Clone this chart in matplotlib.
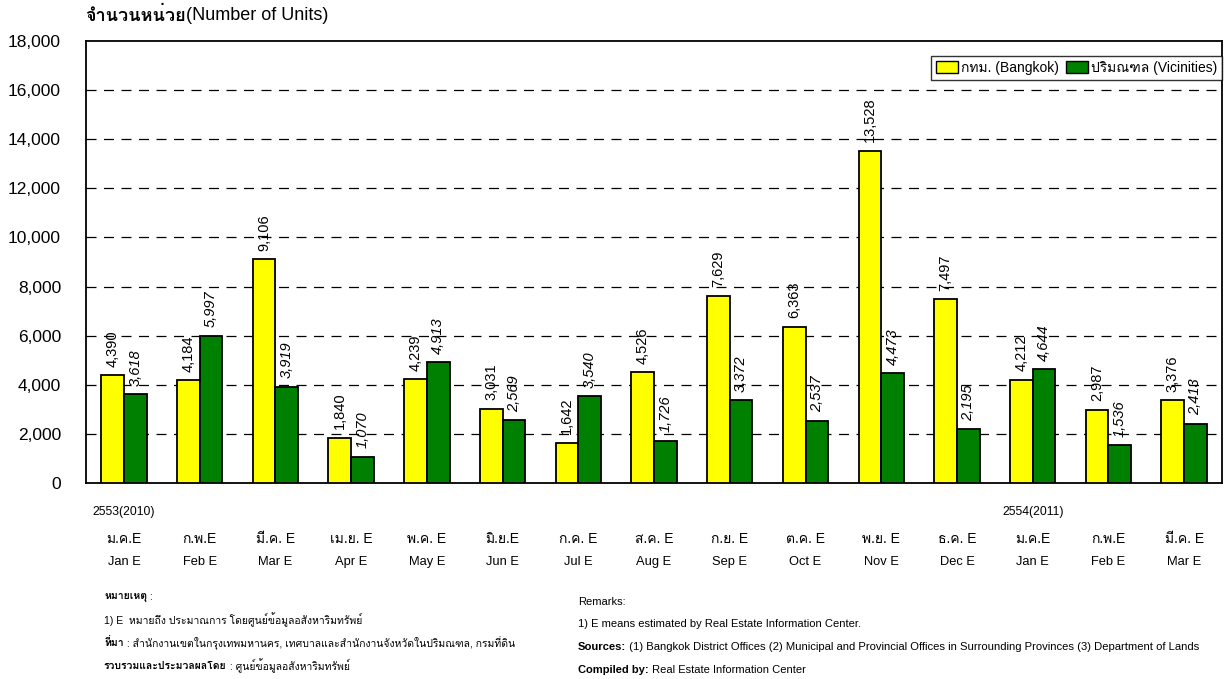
import numpy as np
import matplotlib
matplotlib.use('Agg')
import matplotlib.pyplot as plt
from matplotlib import font_manager
from matplotlib.ft2font import FT2Font
from matplotlib.patches import Patch

# find some installed font that has Thai glyphs
thai_font = None
for f in font_manager.fontManager.ttflist:
    try:
        if 0x0E01 in FT2Font(f.fname).get_charmap():
            thai_font = f.name
            break
    except Exception:
        pass
fams = ['Liberation Sans']
if thai_font:
    fams.append(thai_font)
fams.append('DejaVu Sans')
plt.rcParams['font.family'] = fams

months_th = ['ม.ค.E', 'ก.พ.E', 'มี.ค. E', 'เม.ย. E', 'พ.ค. E', 'มิ.ย.E', 'ก.ค. E', 'ส.ค. E',
             'ก.ย. E', 'ต.ค. E', 'พ.ย. E', 'ธ.ค. E', 'ม.ค.E', 'ก.พ.E', 'มี.ค. E']
months_en = ['Jan E', 'Feb E', 'Mar E', 'Apr E', 'May E', 'Jun E', 'Jul E', 'Aug E',
             'Sep E', 'Oct E', 'Nov E', 'Dec E', 'Jan E', 'Feb E', 'Mar E']
bangkok = [4390, 4184, 9106, 1840, 4239, 3031, 1642, 4526, 7629, 6363, 13528, 7497, 4212, 2987, 3376]
vicinities = [3618, 5997, 3919, 1070, 4913, 2569, 3540, 1726, 3372, 2537, 4473, 2195, 4644, 1536, 2413]
yticks = [0, 2000, 4000, 6000, 8000, 10000, 12000, 14000, 16000, 18000]

fig = plt.figure(figsize=(12.24, 6.79), dpi=100)
ax = fig.add_axes([0.0703, 0.2887, 0.9281, 0.6509])

x = np.arange(len(bangkok))
w = 0.30
ax.bar(x - w/2, bangkok, w, color='#ffff00', edgecolor='black', linewidth=1.3, zorder=3)
ax.bar(x + w/2, vicinities, w, color='#008000', edgecolor='black', linewidth=1.3, zorder=3)

for xi, v in zip(x, bangkok):
    ax.annotate(f'{v:,}', (xi - w/2, v), xytext=(0, 6), textcoords='offset points',
                rotation=90, ha='center', va='bottom', fontsize=10.5)
for xi, v in zip(x, vicinities):
    ax.annotate(f'{v:,}', (xi + w/2, v), xytext=(0, 6), textcoords='offset points',
                rotation=90, ha='center', va='bottom', fontsize=10.5, style='italic')

ax.set_xlim(-0.5, len(bangkok) - 0.5)
ax.set_ylim(0, 18000)
ax.set_yticks(yticks)
ax.set_yticklabels([f'{t:,}' for t in yticks], fontsize=12.5)
ax.set_xticks([])
ax.tick_params(axis='y', length=0, pad=18)
for t in yticks[1:-1]:
    ax.axhline(t, color='black', linestyle=(0, (8, 6)), linewidth=0.9, zorder=1)
for s in ax.spines.values():
    s.set_linewidth(1.3)

leg = ax.legend([Patch(facecolor='#ffff00', edgecolor='black'), Patch(facecolor='#008000', edgecolor='black')],
                ['กทม. (Bangkok)', 'ปริมณฑล (Vicinities)'], ncol=2, loc='upper right',
                bbox_to_anchor=(1.0, 0.966), borderaxespad=0, fontsize=10, frameon=True, fancybox=False,
                edgecolor='black', handlelength=1.6, handleheight=1.0, handletextpad=0.2,
                columnspacing=0.5, borderpad=0.35)
leg.get_frame().set_linewidth(1.0)

fig.canvas.draw()
rend = fig.canvas.get_renderer()


def chain(x0, y, parts, size):
    # write several text pieces one after the other on one line
    xx = x0
    for s, bold in parts:
        t = fig.text(xx, y, s, fontsize=size, fontweight='bold' if bold else 'normal', va='center', ha='left')
        bb = t.get_window_extent(rend)
        xx += bb.width / fig.bbox.width
    return xx


chain(0.0695, 1 - 16/679, [('จำนวนหน่วย', True), ('(Number of Units)', False)], 13)

# x labels below the axis
tr = ax.get_xaxis_transform()
ax.text(0, -0.066, '2553(2010)', transform=tr, ha='center', va='center', fontsize=8.7)
ax.text(12, -0.066, '2554(2011)', transform=tr, ha='center', va='center', fontsize=8.7)
for i in x:
    ax.text(i, -0.127, months_th[i], transform=tr, ha='center', va='center', fontsize=10)
    ax.text(i, -0.179, months_en[i], transform=tr, ha='center', va='center', fontsize=9.3)

# footnotes (Thai)
fx = 104 / 1224
chain(fx, 1 - 597/679, [('หมายเหตุ', True), (' :', False)], 7.5)
chain(fx, 1 - 620/679, [('1) E  หมายถึง ประมาณการ โดยศูนย์ข้อมูลอสังหาริมทรัพย์', False)], 7.5)
chain(fx, 1 - 643/679, [('ที่มา', True),
                        (' : สำนักงานเขตในกรุงเทพมหานคร, เทศบาลและสำนักงานจังหวัดในปริมณฑล, กรมที่ดิน', False)], 7.5)
chain(fx, 1 - 666/679, [('รวบรวมและประมวลผลโดย', True), (' : ศูนย์ข้อมูลอสังหาริมทรัพย์', False)], 7.5)

# footnotes (English)
ex = 578 / 1224
chain(ex, 1 - 602/679, [('Remarks:', False)], 8)
chain(ex, 1 - 624/679, [('1) E means estimated by Real Estate Information Center.', False)], 8)
chain(ex, 1 - 647/679, [('Sources:', True),
                        (' (1) Bangkok District Offices (2) Municipal and Provincial Offices in Surrounding Provinces (3) Department of Lands', False)], 8.1)
chain(ex, 1 - 670/679, [('Compiled by:', True), (' Real Estate Information Center', False)], 8)

fig.savefig('out.png', dpi=100)
